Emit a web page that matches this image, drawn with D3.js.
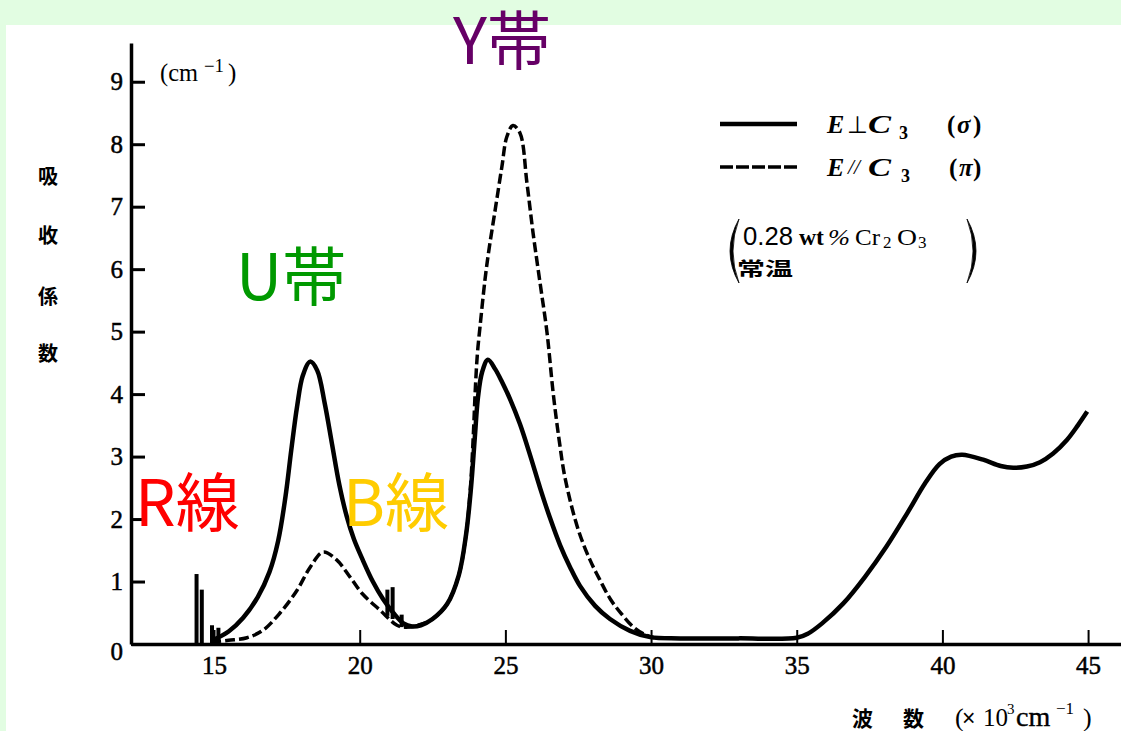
<!DOCTYPE html>
<html><head><meta charset="utf-8">
<script src="https://cdn.jsdelivr.net/npm/d3@7"></script>
<style>
html,body{margin:0;padding:0;background:#e2fde2;overflow:hidden;}
svg{display:block;}
</style></head><body>
<svg id="chart" width="1121" height="731"></svg>
<script>
// ---------- data ----------
const xTicks = [15, 20, 25, 30, 35, 40, 45];
const yTicks = [0, 1, 2, 3, 4, 5, 6, 7, 8, 9];

// E ⊥ C3 (σ) : [wavenumber ×10^3 cm^-1, absorption cm^-1]
const sigmaCurve = [
  [14.95,0.06],[15.5,0.2],[16.0,0.42],[16.5,0.75],[16.9,1.15],[17.2,1.65],[17.45,2.35],
  [17.65,3.1],[17.85,3.8],[18.05,4.3],[18.3,4.52],[18.54,4.38],[18.8,3.85],[19.05,3.2],
  [19.3,2.55],[19.55,2.05],[19.8,1.68],[20.1,1.35],[20.45,1.0],[20.8,0.72],[21.15,0.5],
  [21.5,0.33],[21.8,0.28],[22.1,0.3],[22.5,0.4],[23.0,0.64],[23.4,1.1],[23.65,1.75],
  [23.82,2.5],[23.95,3.3],[24.06,3.95],[24.2,4.35],[24.4,4.55],[24.65,4.4],[24.89,4.19],
  [25.16,3.92],[25.5,3.52],[25.85,3.02],[26.19,2.5],[26.53,2.02],[26.88,1.58],[27.22,1.23],
  [27.56,0.93],[28.08,0.61],[28.59,0.4],[29.28,0.21],[29.97,0.11],[31.0,0.09],[33.0,0.09],
  [35.0,0.1],[35.4,0.17],[35.87,0.33],[36.6,0.65],[37.35,1.08],[38.08,1.56],[38.8,2.1],
  [39.4,2.57],[39.9,2.88],[40.3,3.0],[40.68,3.03],[41.4,2.95],[42.0,2.85],[42.43,2.82],
  [42.9,2.84],[43.35,2.91],[43.8,3.05],[44.28,3.27],[44.65,3.5],[44.97,3.72]
];
// E ∥ C3 (π)
const piCurve = [
  [14.9,0.03],[15.5,0.06],[16.13,0.1],[16.68,0.22],[17.27,0.5],[17.85,0.86],[18.3,1.23],
  [18.74,1.47],[19.2,1.35],[19.67,1.07],[20.1,0.8],[20.7,0.54],[21.28,0.3],[21.55,0.27],
  [22.0,0.3],[22.5,0.4],[23.0,0.64],[23.4,1.1],[23.65,1.75],[23.8,2.5],[23.9,3.35],
  [23.97,4.1],[24.04,4.65],[24.13,5.08],[24.3,5.83],[24.42,6.26],[24.65,6.95],[24.88,7.64],
  [25.05,8.12],[25.26,8.3],[25.5,8.18],[25.74,7.38],[25.95,6.58],[26.19,5.78],[26.43,4.98],
  [26.64,4.02],[26.85,3.25],[27.06,2.63],[27.5,1.83],[27.9,1.35],[28.24,1.03],[28.6,0.72],
  [28.97,0.49],[29.4,0.27],[29.8,0.15],[30.1,0.1]
];
// R lines (sharp spikes)
const rLinePos  = [14.4, 14.58, 14.93, 15.15];
const rLineTop  = [1.12, 0.87, 0.3, 0.26];
const rLineBase = [0, 0, 0, 0];
// B lines
const bLinePos  = [20.95, 21.13, 21.44];
const bLineTop  = [0.87, 0.91, 0.47];
const bLineBase = [0.45, 0.4, 0.27];

const bandLabels = ["Y帯", "U帯", "R線", "B線"];
const yTitleChars = ["吸", "收", "係", "数"];

// ---------- drawing ----------
const svg = d3.select("#chart");
svg.append("rect").attr("x", 6).attr("y", 25).attr("width", 1115).attr("height", 706).attr("fill", "#ffffff");

const x = d3.scaleLinear().domain([12.15, 46.13]).range([131, 1121]);
const y = d3.scaleLinear().domain([0, 9.62]).range([644, 43]);

const serif = "'Liberation Serif','DejaVu Serif',serif";
const sans = "'Liberation Sans','DejaVu Sans',sans-serif";
const cjk = "'Noto Sans CJK JP','Noto Sans CJK SC',sans-serif";

// x axis
const xAxis = svg.append("g").attr("transform", "translate(0,644)")
  .call(d3.axisBottom(x).tickValues(xTicks).tickSizeInner(-14).tickSizeOuter(0).tickPadding(12).tickFormat(d3.format("d")));
xAxis.select(".domain").attr("stroke", "#000").attr("stroke-width", 3.5);
xAxis.selectAll(".tick line").attr("stroke", "#000").attr("stroke-width", 2);
xAxis.selectAll(".tick text").attr("font-family", serif).attr("font-size", 25).attr("fill", "#000")
  .attr("stroke", "#000").attr("stroke-width", 0.5);

// y axis
const yAxis = svg.append("g").attr("transform", "translate(131,0)")
  .call(d3.axisLeft(y).tickValues(yTicks).tickSizeInner(-14).tickSizeOuter(0).tickPadding(8).tickFormat(d3.format("d")));
yAxis.select(".domain").attr("stroke", "#000").attr("stroke-width", 3.5);
yAxis.selectAll(".tick line").attr("stroke", "#000").attr("stroke-width", 3);
yAxis.selectAll(".tick text").attr("font-family", serif).attr("font-size", 25).attr("fill", "#000")
  .attr("stroke", "#000").attr("stroke-width", 0.5)
  .attr("dy", d => d === 0 ? "0.62em" : "0.32em");

// curves
const line = d3.line().x(d => x(d[0])).y(d => y(d[1])).curve(d3.curveCatmullRom.alpha(0.5));
svg.append("path").datum(piCurve).attr("d", line).attr("fill", "none")
  .attr("stroke", "#000").attr("stroke-width", 3.5).attr("stroke-dasharray", "10,4");
svg.append("path").datum(sigmaCurve).attr("d", line).attr("fill", "none")
  .attr("stroke", "#000").attr("stroke-width", 4.5).attr("stroke-linejoin", "round");

// spikes
const spikes = rLinePos.map((p, i) => ({p, t: rLineTop[i], b: rLineBase[i]}))
  .concat(bLinePos.map((p, i) => ({p, t: bLineTop[i], b: bLineBase[i]})));
svg.append("g").selectAll("line").data(spikes).join("line")
  .attr("x1", d => x(d.p)).attr("x2", d => x(d.p))
  .attr("y1", d => y(d.b)).attr("y2", d => y(d.t))
  .attr("stroke", "#000").attr("stroke-width", 4);

// helper for positioned text pieces
function piece(txt, px, py, size, opts = {}) {
  const t = svg.append("text").attr("x", px).attr("y", py).attr("font-size", size)
    .attr("font-family", opts.family || serif).attr("fill", "#000").text(txt);
  if (opts.weight) t.attr("font-weight", opts.weight);
  if (opts.style) t.attr("font-style", opts.style);
  if (opts.len) t.attr("textLength", opts.len).attr("lengthAdjust", "spacingAndGlyphs");
  if (opts.stroke) t.attr("stroke", "#000").attr("stroke-width", opts.stroke);
  return t;
}

// y-axis unit
piece("(cm", 160, 81, 25, {len: 38});
piece("−1", 204, 72, 18, {len: 20});
piece(")", 228, 81, 25);

// y title
svg.append("g").selectAll("text").data(yTitleChars).join("text")
  .attr("x", 48).attr("y", (d, i) => [184, 243, 304, 361][i])
  .attr("text-anchor", "middle").attr("font-family", cjk).attr("font-weight", 700).attr("font-size", 20)
  .attr("fill", "#000").text(d => d);

// x title (one text element, positioned tspans)
piece("波", 852, 726, 21, {family: cjk, weight: 700});
piece("数", 903, 726, 21, {family: cjk, weight: 700});
const xt = svg.append("text").attr("y", 726).attr("font-family", serif).attr("font-size", 25).attr("fill", "#000");
xt.append("tspan").attr("x", 955).attr("font-size", 26).text("(");
xt.append("tspan").attr("x", 962).attr("font-family", sans).attr("font-size", 23).text("×");
xt.append("tspan").attr("x", 983).text("10");
xt.append("tspan").attr("x", 1007).attr("dy", -12).attr("font-size", 15).text("3");
xt.append("tspan").attr("x", 1016).attr("dy", 12).attr("font-size", 28).attr("stroke", "#000").attr("stroke-width", 0.4).text("cm");
xt.append("tspan").attr("x", 1056).attr("dy", -12).attr("font-size", 17).text("−1");
xt.append("tspan").attr("x", 1083).attr("dy", 12).attr("font-size", 26).text(")");

// legend
svg.append("line").attr("x1", 720).attr("x2", 797).attr("y1", 124).attr("y2", 124).attr("stroke", "#000").attr("stroke-width", 4.5);
svg.append("line").attr("x1", 720).attr("x2", 797).attr("y1", 167).attr("y2", 167).attr("stroke", "#000").attr("stroke-width", 3.5).attr("stroke-dasharray", "13,3");
// σ row
piece("E", 827, 133, 26, {style: "italic", weight: 700});
piece("⊥", 847, 133, 24, {family: "'DejaVu Sans',sans-serif"});
piece("C", 868, 133, 26, {style: "italic", weight: 700, len: 23});
piece("3", 899, 139, 18, {weight: 700});
piece("(", 947, 133, 25, {weight: 700});
piece("σ", 957, 133, 25, {style: "italic", weight: 700});
piece(")", 973, 133, 25, {weight: 700});
// π row
piece("E", 827, 176, 26, {style: "italic", weight: 700});
piece("//", 848, 174, 20, {style: "italic", len: 12});
piece("C", 868, 176, 26, {style: "italic", weight: 700, len: 23});
piece("3", 901, 182, 18, {weight: 700});
piece("(", 949, 176, 25, {weight: 700});
piece("π", 959, 176, 25, {style: "italic", weight: 700});
piece(")", 973, 176, 25, {weight: 700});

// sample note
piece("0.28", 743, 245, 25, {family: sans, len: 50});
piece("wt", 799, 245, 23, {weight: 700, len: 25});
piece("%", 828, 245, 24, {style: "italic", len: 22});
piece("Cr", 855, 245, 24, {len: 25});
piece("2", 883, 248, 17);
piece("O", 897, 245, 24, {len: 20});
piece("3", 918, 248, 17);
piece("常温", 737, 276, 19, {family: cjk, weight: 700, len: 56});
svg.append("path").attr("d", "M739,219 Q721,251 739,283 Q727,251 739,219 Z").attr("fill", "#000").attr("stroke", "#000").attr("stroke-width", 0.8);
svg.append("path").attr("d", "M967,219 Q985,251 967,283 Q979,251 967,219 Z").attr("fill", "#000").attr("stroke", "#000").attr("stroke-width", 0.8);

// band annotations
const bandColors = ["#660066", "#009900", "#ff0000", "#ffcc00"];
const bandPos = [[453, 64], [236, 300], [135, 526], [343, 526]];
svg.append("g").selectAll("text").data(bandLabels).join("text")
  .attr("x", (d, i) => bandPos[i][0]).attr("y", (d, i) => bandPos[i][1])
  .attr("font-family", cjk).attr("font-size", 64).attr("fill", (d, i) => bandColors[i]).text(d => d);
</script>
</body></html>
